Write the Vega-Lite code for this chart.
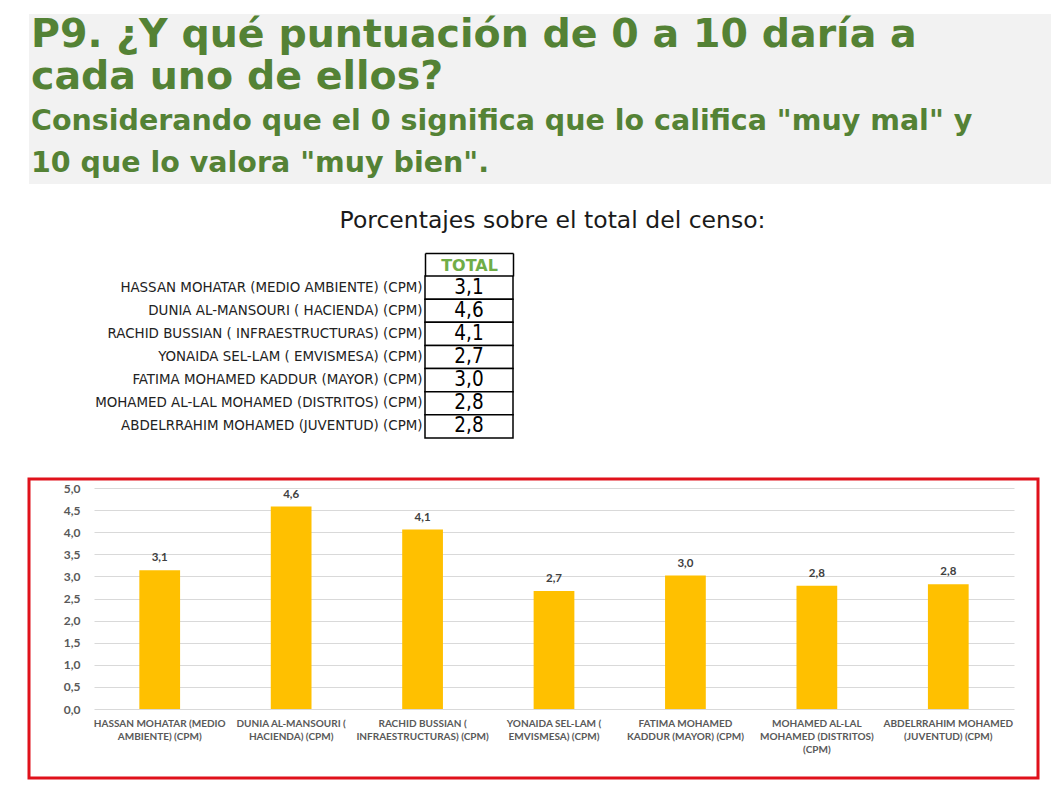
{
  "$schema": "https://vega.github.io/schema/vega-lite/v6.json",
  "background": "white",
  "padding": {"left": 27, "top": 14, "right": 8, "bottom": 10},
  "spacing": 0,
  "config": {
    "locale": {"number": {"decimal": ",", "thousands": ".", "grouping": [3], "currency": ["", " €"]}},
    "view": {"stroke": null},
    "font": "DejaVu Sans"
  },
  "datasets": {
    "puntuaciones": [
      {"candidato": "HASSAN MOHATAR (MEDIO AMBIENTE) (CPM)", "valor": 3.14},
      {"candidato": "DUNIA AL-MANSOURI ( HACIENDA) (CPM)", "valor": 4.58},
      {"candidato": "RACHID BUSSIAN ( INFRAESTRUCTURAS) (CPM)", "valor": 4.06},
      {"candidato": "YONAIDA SEL-LAM ( EMVISMESA) (CPM)", "valor": 2.67},
      {"candidato": "FATIMA MOHAMED KADDUR (MAYOR) (CPM)", "valor": 3.02},
      {"candidato": "MOHAMED AL-LAL MOHAMED (DISTRITOS) (CPM)", "valor": 2.79},
      {"candidato": "ABDELRRAHIM MOHAMED (JUVENTUD) (CPM)", "valor": 2.82}
    ]
  },
  "vconcat": [
    {
      "width": 1022,
      "height": 170,
      "view": {"fill": "#f2f2f2", "stroke": null},
      "data": {"values": [{}]},
      "mark": {"type": "rect", "color": "#f2f2f2"},
      "encoding": {},
      "title": {
        "text": ["P9. ¿Y qué puntuación de 0 a 10 daría a", "cada uno de ellos?"],
        "subtitle": ["Considerando que el 0 significa que lo califica \"muy mal\" y", "10 que lo valora  \"muy bien\"."],
        "orient": "bottom",
        "anchor": "start",
        "offset": -168,
        "dx": 2,
        "font": "DejaVu Sans",
        "fontSize": 39.5,
        "fontWeight": "bold",
        "color": "#548235",
        "lineHeight": 42,
        "subtitleFont": "DejaVu Sans",
        "subtitleFontSize": 28.5,
        "subtitleFontWeight": "bold",
        "subtitleColor": "#548235",
        "subtitleLineHeight": 42,
        "subtitlePadding": 9
      }
    },
    {
      "width": 1011,
      "height": 293,
      "data": {"name": "puntuaciones"},
      "title": {
        "text": "Porcentajes sobre el total del censo:",
        "orient": "top",
        "anchor": "middle",
        "offset": -48,
        "dx": 18,
        "font": "DejaVu Sans",
        "fontSize": 23.5,
        "fontWeight": "normal",
        "color": "#1a1a1a"
      },
      "encoding": {
        "y": {
          "field": "candidato",
          "type": "nominal",
          "sort": null,
          "scale": {"range": [92, 254], "paddingInner": 0, "paddingOuter": 0},
          "axis": {
            "orient": "left",
            "offset": -396,
            "labelPadding": 3,
            "ticks": false,
            "domain": false,
            "title": null,
            "labelFont": "DejaVu Sans Condensed",
            "labelFontSize": 14.9,
            "labelColor": "#222222",
            "labelLimit": 400
          }
        },
        "x": {
          "datum": "TOTAL",
          "type": "nominal",
          "scale": {"range": [396, 484], "paddingInner": 0, "paddingOuter": 0},
          "axis": {
            "orient": "top",
            "offset": -69,
            "title": null,
            "tickBand": "extent",
            "tickSize": -23,
            "tickColor": "#000000",
            "tickWidth": 1.5,
            "domainColor": "#000000",
            "domainWidth": 1.5,
            "labelPadding": 3,
            "labelFont": "DejaVu Sans",
            "labelFontWeight": "bold",
            "labelFontSize": 16,
            "labelColor": "#70ad47",
            "labelAngle": 0
          }
        }
      },
      "layer": [
        {"mark": {"type": "rect", "fill": "white", "stroke": "#000000", "strokeWidth": 1.5}},
        {
          "mark": {"type": "text", "font": "DejaVu Sans Condensed", "fontSize": 20.5, "color": "#000000"},
          "encoding": {"text": {"field": "valor", "type": "quantitative", "format": ".1f"}}
        }
      ]
    },
    {
      "width": 1009,
      "height": 299,
      "view": {"stroke": "#e0111b", "strokeWidth": 3},
      "data": {"name": "puntuaciones"},
      "encoding": {
        "x": {
          "field": "candidato",
          "type": "nominal",
          "sort": null,
          "scale": {"range": [65, 985], "paddingInner": 0.69, "paddingOuter": 0.345},
          "axis": {
            "orient": "bottom",
            "offset": -69,
            "title": null,
            "domain": false,
            "ticks": false,
            "labelAngle": 0,
            "labelPadding": 9,
            "labelFont": "Lato",
            "labelFontWeight": "bold",
            "labelFontSize": 10,
            "labelColor": "#595959",
            "labelLineHeight": 13,
            "labelLimit": 200,
            "labelExpr": "{'HASSAN MOHATAR (MEDIO AMBIENTE) (CPM)': ['HASSAN MOHATAR (MEDIO', 'AMBIENTE) (CPM)'], 'DUNIA AL-MANSOURI ( HACIENDA) (CPM)': ['DUNIA AL-MANSOURI (', 'HACIENDA) (CPM)'], 'RACHID BUSSIAN ( INFRAESTRUCTURAS) (CPM)': ['RACHID BUSSIAN (', 'INFRAESTRUCTURAS) (CPM)'], 'YONAIDA SEL-LAM ( EMVISMESA) (CPM)': ['YONAIDA SEL-LAM (', 'EMVISMESA) (CPM)'], 'FATIMA MOHAMED KADDUR (MAYOR) (CPM)': ['FATIMA MOHAMED', 'KADDUR (MAYOR) (CPM)'], 'MOHAMED AL-LAL MOHAMED (DISTRITOS) (CPM)': ['MOHAMED AL-LAL', 'MOHAMED (DISTRITOS)', '(CPM)'], 'ABDELRRAHIM MOHAMED (JUVENTUD) (CPM)': ['ABDELRRAHIM MOHAMED', '(JUVENTUD) (CPM)']}[datum.value]"
          }
        },
        "y": {
          "field": "valor",
          "type": "quantitative",
          "scale": {"domain": [0, 5], "range": [230, 9], "nice": false},
          "axis": {
            "orient": "left",
            "offset": -65,
            "title": null,
            "values": [0, 0.5, 1, 1.5, 2, 2.5, 3, 3.5, 4, 4.5, 5],
            "format": ".1f",
            "domain": false,
            "ticks": false,
            "labelPadding": 14,
            "labelFont": "Lato",
            "labelFontWeight": "bold",
            "labelFontSize": 12,
            "labelColor": "#595959",
            "gridColor": "#d9d9d9",
            "gridWidth": 1
          }
        }
      },
      "layer": [
        {"mark": {"type": "bar", "color": "#ffc000"}},
        {
          "mark": {"type": "text", "baseline": "alphabetic", "dy": -9, "font": "Lato", "fontWeight": "bold", "fontSize": 11.5, "color": "#404040"},
          "encoding": {"text": {"field": "valor", "type": "quantitative", "format": ".1f"}}
        }
      ]
    }
  ]
}
